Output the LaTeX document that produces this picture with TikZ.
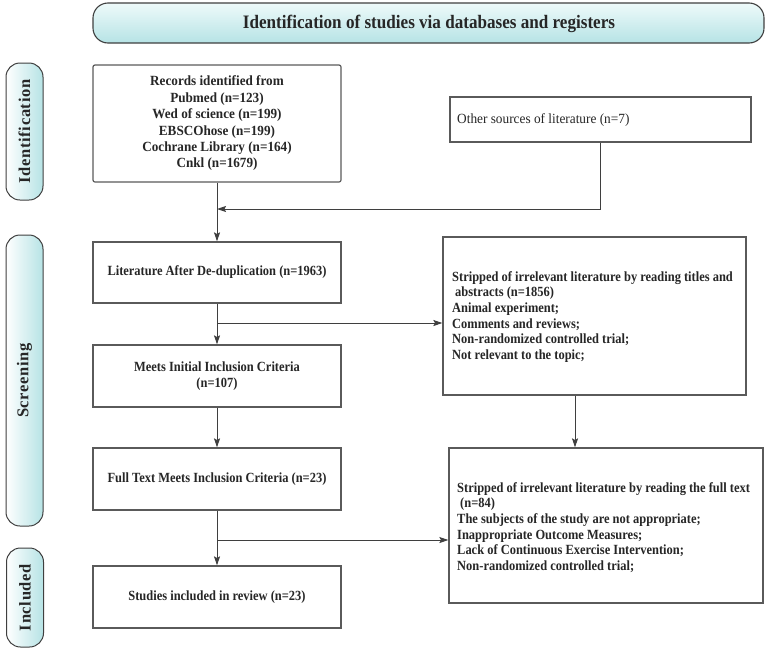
\documentclass[tikz,border=0pt]{standalone}
\usepackage{fontspec}
\setmainfont{Liberation Serif}
\newfontfamily\condfont{Liberation Serif Bold}[FakeStretch=0.89]
\newfontfamily\recfont{Liberation Serif Bold}[FakeStretch=0.94]
\newfontfamily\regfont{Liberation Serif}[FakeStretch=0.95]
\newfontfamily\titlefont{Liberation Serif Bold}[FakeStretch=0.9]
\newfontfamily\sidefont{Liberation Serif Bold}[LetterSpace=4]
\usetikzlibrary{arrows.meta,calc}
\definecolor{lineclr}{HTML}{3F3F3F}
\definecolor{boxclr}{HTML}{5A5A5A}
\definecolor{txtclr}{HTML}{262626}
\definecolor{cyanA}{HTML}{B6E3E5}
\definecolor{cyanB}{HTML}{EEFAFA}
\tikzset{
  box/.style={draw=boxclr, line width=1.2pt, fill=white, inner sep=0pt, text=txtclr, font=\condfont\fontsize{14}{16}\selectfont},
  cbox/.style={box, align=center},
  ltext/.style={anchor=west, inner sep=0pt, align=left, text=txtclr, font=\condfont\fontsize{14}{15.7}\selectfont},
  side/.style={draw=lineclr, line width=1pt, rounded corners=14pt, left color=white, right color=cyanA, minimum width=37pt, inner sep=0pt},
  sidetext/.style={font=\sidefont\fontsize{16.5}{16.5}\selectfont, rotate=90, text=txtclr},
  arr/.style={draw=lineclr, line width=1pt, -{Stealth[length=9pt,width=6pt,inset=1.5pt]}}
}
\begin{document}
\begin{tikzpicture}[x=1pt,y=-1pt]
\useasboundingbox (0,0) rectangle (767,651);
% title
\node[draw=lineclr, line width=1.1pt, rounded corners=15pt, top color=cyanB, bottom color=cyanA, minimum width=671pt, minimum height=40pt, inner sep=0pt] (title) at (428.5,23) {};
\node[font=\titlefont\fontsize{19}{19}\selectfont, text=txtclr] (titletext) at (429,24) {Identification of studies via databases and registers};
% side labels
\node[side, minimum height=137pt] (sid) at (24.5,131.5) {};
\node[sidetext] (sidt) at (24.5,131.5) {Identification};
\node[side, minimum height=291pt] (ssc) at (24.5,380.5) {};
\node[sidetext] (ssct) at (24.5,380.5) {Screening};
\node[side, minimum height=99pt] (sin) at (25,597.5) {};
\node[sidetext] (sint) at (25,597.5) {Included};
% left column
\node[cbox, rounded corners=2pt, minimum width=248pt, minimum height=117pt, font=\recfont\fontsize{14}{16.4}\selectfont] (rec) at (217,123.5)
  {Records identified from\\Pubmed (n=123)\\Wed of science (n=199)\\EBSCOhose (n=199)\\Cochrane Library (n=164)\\Cnkl (n=1679)};
\node[cbox, minimum width=248pt, minimum height=61pt] (lit) at (217,272.5) {Literature After De-duplication (n=1963)};
\node[cbox, minimum width=248pt, minimum height=62pt] (meet) at (217,376) {Meets Initial Inclusion Criteria\\(n=107)};
\node[cbox, minimum width=248pt, minimum height=62pt] (full) at (217,479) {Full Text Meets Inclusion Criteria (n=23)};
\node[cbox, minimum width=248pt, minimum height=62pt] (stud) at (217,597) {Studies included in review (n=23)};
% right column
\node[box, minimum width=301pt, minimum height=45pt] (other) at (600.5,119.5) {};
\node[ltext, font=\regfont\fontsize{14}{16}\selectfont] (othert) at (457,120) {Other sources of literature (n=7)};
\node[box, minimum width=303pt, minimum height=158pt] (s1) at (594.5,316) {};
\node[ltext] (s1t) at (452,317)
  {Stripped of irrelevant literature by reading titles and\\\hspace*{3pt}abstracts (n=1856)\\Animal experiment;\\Comments and reviews;\\Non-randomized controlled trial;\\Not relevant to the topic;};
\node[box, minimum width=314pt, minimum height=155pt] (s2) at (606,525.5) {};
\node[ltext] (s2t) at (457,527.5)
  {Stripped of irrelevant literature by reading the full text\\\hspace*{3pt}(n=84)\\The subjects of the study are not appropriate;\\Inappropriate Outcome Measures;\\Lack of Continuous Exercise Intervention;\\Non-randomized controlled trial;};
% connectors
\coordinate (m1) at (217,209);
\coordinate (b1) at (217,323);
\coordinate (b2) at (217,540);
\coordinate (d1) at (575,0);
\draw[arr] (rec) -- (lit);
\draw[arr] (other.south) |- (m1);
\draw[arr] (lit) -- (meet);
\draw[arr] (b1) -- (b1 -| s1.west);
\draw[arr] (meet) -- (full);
\draw[arr] (full) -- (stud);
\draw[arr] (b2) -- (b2 -| s2.west);
\draw[arr] (s1.south -| d1) -- (s2.north -| d1);
\end{tikzpicture}
\end{document}
